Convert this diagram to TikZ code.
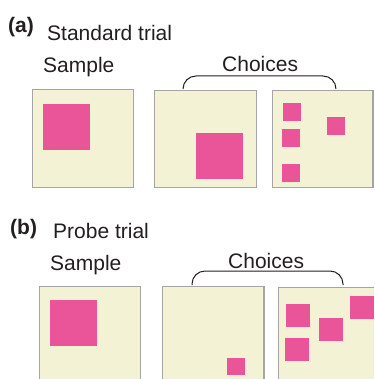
\documentclass[tikz,border=0pt]{standalone}
\usepackage{fontspec}
\setmainfont{Liberation Sans}
\definecolor{cream}{HTML}{F4F2D5}
\definecolor{frame}{HTML}{A3A6A5}
\definecolor{magenta}{HTML}{EA5499}
\definecolor{ink}{HTML}{231F20}
% rectangle node from its corners: name, style, x1, y1, x2, y2
\newcommand\cornerbox[6]{%
  \node[#2, minimum width={(#5-#3)*1pt}, minimum height={(#6-#4)*1pt}]
    (#1) at ({(#3+#5)/2},{(#4+#6)/2}) {};}
\begin{document}
\begin{tikzpicture}[x=1pt,y=-1pt,
  panel/.style={draw=frame, fill=cream, line width=1.9pt, inner sep=0pt, outer sep=0pt},
  target/.style={fill=magenta, draw=none, inner sep=0pt, outer sep=0pt},
  label/.style={font=\fontsize{21}{24}\selectfont, text=ink, anchor=base west, inner sep=0pt},
  tag/.style={label, font=\fontsize{21}{24}\selectfont\bfseries},
  brace/.style={draw=ink, line width=1pt, rounded corners=13pt}]
\useasboundingbox (0,0) rectangle (374,379);
\clip (0,0) rectangle (374,379);
\fill[white] (0,0) rectangle (374,379);

% (a) standard trial
\node[tag]   (ta) at (8,33)   {(a)};
\node[label] (sa) at (47,41)  {Standard trial};
\node[label] (la) at (43,73)  {Sample};
\node[label] (ca) at (222,72) {Choices};

\cornerbox{a1}{panel}{32.5}{89.5}{133.5}{187.5}
\cornerbox{a2}{panel}{154.5}{90.5}{256.5}{187.5}
\cornerbox{a3}{panel}{272.5}{90.5}{373}{187.5}

\cornerbox{a1s}{target}{43}{104}{90}{150}
\cornerbox{a2s}{target}{196}{133}{243}{179}
\cornerbox{a3s1}{target}{283}{103}{301}{121}
\cornerbox{a3s2}{target}{282}{129}{300}{147}
\cornerbox{a3s3}{target}{327}{117}{345}{135}
\cornerbox{a3s4}{target}{282}{164}{300}{182}

\coordinate (bal) at (183,89);
\coordinate (bar) at (336,89);
\draw[brace] (bal) |- (259.5,76) -| (bar);

% (b) probe trial
\node[tag]   (tb) at (10,234)  {(b)};
\node[label] (sb) at (53,238)  {Probe trial};
\node[label] (lb) at (50,270)  {Sample};
\node[label] (cb) at (228,268) {Choices};

\cornerbox{b1}{panel}{39.5}{286.5}{140.5}{390}
\cornerbox{b2}{panel}{162.5}{286.5}{264}{390}
\cornerbox{b3}{panel}{278.5}{287.5}{390}{390}

\cornerbox{b1s}{target}{50}{300}{97}{346}
\cornerbox{b2s}{target}{227}{358}{245}{375}
\cornerbox{b3s1}{target}{286}{304}{310}{327}
\cornerbox{b3s2}{target}{319}{318}{343}{341}
\cornerbox{b3s3}{target}{350}{296}{374}{319}
\cornerbox{b3s4}{target}{285}{338}{309}{361}

\coordinate (bbl) at (192,285);
\coordinate (bbr) at (343,285);
\draw[brace] (bbl) |- (267.5,271) -| (bbr);
\end{tikzpicture}
\end{document}
